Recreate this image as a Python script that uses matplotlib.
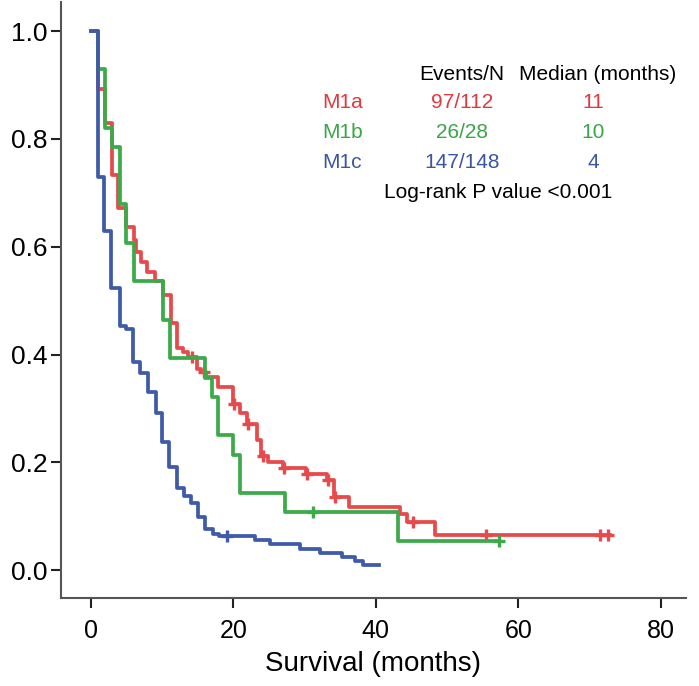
import numpy as np
import matplotlib.pyplot as plt

plt.rcParams['font.family'] = ['Liberation Sans', 'DejaVu Sans']

# M1a survival curve (time in months, survival after each drop)
m1a_t = [0, 1.0, 2.0, 3.0, 3.8, 5.0, 6.0, 6.3, 7.0, 7.9, 9.0, 10.1, 11.2, 12.1, 13.0,
         13.6, 14.9, 15.5, 16.2, 17.9, 19.9, 21.0, 21.9, 23.3, 23.9, 24.9, 27.0, 30.2,
         33.2, 34.1, 36.2, 43.4, 44.3, 48.3, 72.9]
m1a_s = [1.0, 0.893, 0.830, 0.733, 0.671, 0.637, 0.612, 0.590, 0.572, 0.553, 0.536,
         0.510, 0.458, 0.413, 0.405, 0.396, 0.374, 0.367, 0.359, 0.340, 0.309, 0.291,
         0.272, 0.241, 0.212, 0.201, 0.189, 0.179, 0.167, 0.136, 0.118, 0.104, 0.090,
         0.065, 0.065]
m1a_cens = [14.2, 15.9, 20.1, 22.1, 24.1, 27.1, 30.3, 33.3, 34.3, 45.2, 55.4, 71.4, 72.6]

# M1b
m1b_t = [0, 1.0, 2.0, 3.0, 4.1, 5.0, 6.0, 10.1, 11.1, 16.0, 17.0, 17.9, 20.0, 20.9,
         27.2, 43.1, 57.3]
m1b_s = [1.0, 0.929, 0.821, 0.786, 0.679, 0.607, 0.536, 0.464, 0.393, 0.357, 0.321,
         0.250, 0.214, 0.143, 0.107, 0.054, 0.054]
m1b_cens = [31.2, 57.3]

# M1c
m1c_t = [0, 1.0, 1.8, 2.9, 4.1, 5.0, 5.9, 6.9, 8.1, 9.1, 10.0, 11.0, 12.1, 13.1, 14.0,
         15.0, 16.0, 17.2, 18.0, 23.0, 25.1, 29.4, 32.2, 35.2, 37.1, 38.2, 40.4]
m1c_s = [1.0, 0.73, 0.63, 0.523, 0.453, 0.448, 0.386, 0.366, 0.331, 0.292, 0.238, 0.191,
         0.152, 0.137, 0.124, 0.099, 0.076, 0.068, 0.064, 0.056, 0.048, 0.040, 0.032,
         0.025, 0.017, 0.009, 0.009]
m1c_cens = [19.1]

groups = ['M1a', 'M1b', 'M1c']
events_n = ['97/112', '26/28', '147/148']
medians = ['11', '10', '4']
line_colors = ['#E84A4C', '#3DAA4A', '#3F5BA8']
text_colors = ['#E0393E', '#3BA547', '#3B55A0']

fig = plt.figure(figsize=(6.99, 6.86), dpi=100)
ax = fig.add_axes([0.0873, 0.128, 0.894, 0.869])

curves = [(m1a_t, m1a_s, m1a_cens), (m1b_t, m1b_s, m1b_cens), (m1c_t, m1c_s, m1c_cens)]
for i, (t, s, cens) in enumerate(curves):
    col = line_colors[i]
    ax.step(t, s, where='post', color=col, lw=2.7, zorder=2 + i)
    t_arr = np.array(t)
    s_arr = np.array(s)
    idx = np.searchsorted(t_arr, cens, side='right') - 1
    ax.plot(cens, s_arr[idx], ls='none', marker='+', ms=8, mew=2.4, color=col, zorder=2 + i)

ax.set_xlim(-4.17, 83.5)
ax.set_ylim(-0.052, 1.054)
ax.set_xticks([0, 20, 40, 60, 80])
ax.set_yticks([0.0, 0.2, 0.4, 0.6, 0.8, 1.0])
ax.set_yticklabels(['0.0', '0.2', '0.4', '0.6', '0.8', '1.0'])
ax.tick_params(direction='out', length=7, width=1.5, labelsize=19, color='#222222')
ax.tick_params(axis='y', pad=3)
ax.tick_params(axis='x', pad=8, labelsize=18)
for side in ['top', 'right']:
    ax.spines[side].set_visible(False)
for side in ['left', 'bottom']:
    ax.spines[side].set_linewidth(1.5)
    ax.spines[side].set_color('#555555')
ax.set_xlabel('Survival (months)', fontsize=20, labelpad=6)

# Table in the upper right (positions in pixels from top-left)
fs = 15
ax.text(462, 75, 'Events/N', fontsize=fs, ha='center', va='center')
ax.text(598, 75, 'Median (months)', fontsize=fs, ha='center', va='center')
rows_y = [103, 133, 162]
for i in range(3):
    y = rows_y[i]
    c = text_colors[i]
    ax.text(322, y, groups[i], fontsize=fs, color=c, ha='left', va='center')
    ax.text(462, y, events_n[i], fontsize=fs, color=c, ha='center', va='center')
    ax.text(593, y, medians[i], fontsize=fs, color=c, ha='center', va='center')
ax.text(498, 193, 'Log-rank P value <0.001', fontsize=fs, ha='center', va='center')

# convert pixel positions to figure coordinates for the texts
for txt in ax.texts:
    x, y = txt.get_position()
    txt.set_transform(fig.transFigure)
    txt.set_position((x / 699, 1 - y / 686))

fig.savefig('out.png', dpi=100)
